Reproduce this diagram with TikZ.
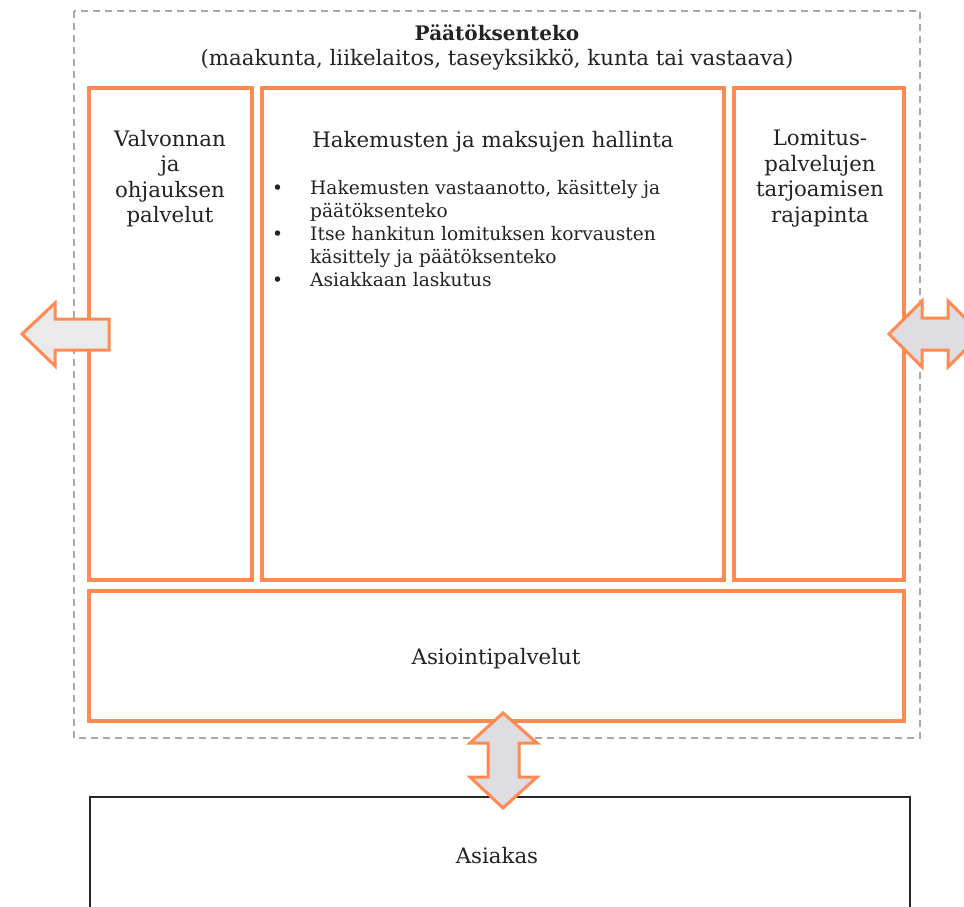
\documentclass[tikz,border=0pt]{standalone}
\usepackage{fontspec}
\setmainfont{DejaVu Serif}
\definecolor{orng}{RGB}{255,138,82}
\definecolor{dgray}{RGB}{168,168,168}
\definecolor{afill}{RGB}{222,222,226}
\definecolor{afill2}{RGB}{234,234,234}
\definecolor{txt}{RGB}{35,35,35}
\begin{document}
\begin{tikzpicture}[x=1pt,y=-1pt,
  obox/.style={draw=orng,line width=3.2pt},
  dbox/.style={draw=dgray,line width=1.6pt,dash pattern=on 7pt off 5pt},
  blk/.style={draw=black!85,line width=2pt},
  barrow/.style={draw=orng,line width=3pt,line join=miter},
  lbl/.style={text=txt,font=\fontsize{21.3}{25.5}\selectfont,align=center,inner sep=0pt},
  blt/.style={text=txt,font=\fontsize{18.6}{23}\selectfont,align=left,inner sep=0pt,anchor=north west}]
\useasboundingbox (0,0) rectangle (964,906);
\fill[white] (0,0) rectangle (964,906);
% outer dashed frame
\draw[dbox] (74,11) rectangle (920,738);
\node[lbl,font=\fontsize{20}{25}\selectfont\bfseries] (title) at (497,33) {Päätöksenteko};
\node[lbl] (subtitle) at (497,60) {(maakunta, liikelaitos, taseyksikkö, kunta tai vastaava)};
% customer box
\draw[blk] (90,797) rectangle (910,920);
\node[lbl] (asiakas) at (497,856) {Asiakas};
% orange boxes
\draw[obox] (89,88) rectangle (252,580);
\draw[obox] (262,88) rectangle (724,580);
\draw[obox] (734,88) rectangle (904,580);
\draw[obox] (89,591) rectangle (904,721);
\node[lbl,anchor=north] (valv) at (170,130) {Valvonnan\\ja\\ohjauksen\\palvelut};
\node[lbl] (hak) at (493,142) {Hakemusten ja maksujen hallinta};
\node[blt] (bul) at (272,180) {\makebox[38pt][l]{•}Hakemusten vastaanotto, käsittely ja\\\hspace*{38pt}päätöksenteko\\\makebox[38pt][l]{•}Itse hankitun lomituksen korvausten\\\hspace*{38pt}käsittely ja päätöksenteko\\\makebox[38pt][l]{•}Asiakkaan laskutus};
\node[lbl,anchor=north] (lom) at (820,130) {Lomitus-\\palvelujen\\tarjoamisen\\rajapinta};
\node[lbl] (asiointi) at (496,659) {Asiointipalvelut};
% block arrows
\draw[barrow,fill=afill2] (22,334) -- (55,303) -- (55,319) -- (109,319) -- (109,350) -- (55,350) -- (55,366) -- cycle;
\draw[barrow,fill=afill] (889,334) -- (922,301) -- (922,318) -- (948,318) -- (948,301) -- (981,334) -- (948,367) -- (948,350) -- (922,350) -- (922,367) -- cycle;
\draw[barrow,fill=afill] (503,713) -- (537,743) -- (519,743) -- (519,777) -- (537,777) -- (503,808) -- (470,777) -- (488,777) -- (488,743) -- (470,743) -- cycle;
\end{tikzpicture}
\end{document}
